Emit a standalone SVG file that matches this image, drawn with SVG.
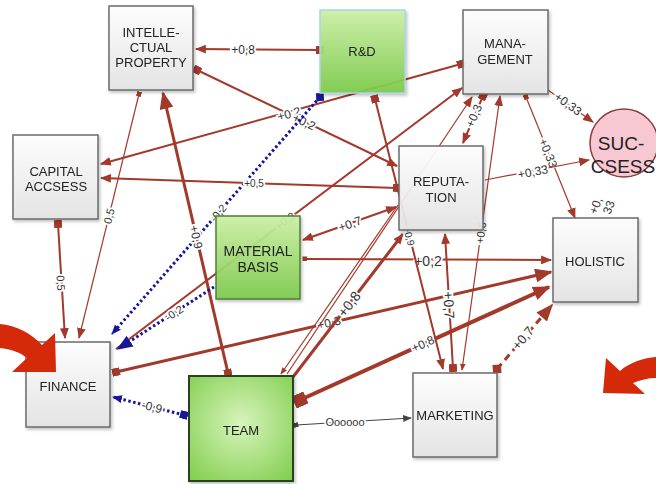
<svg xmlns="http://www.w3.org/2000/svg" width="656" height="484" viewBox="0 0 656 484">
<style>
.c{stroke:#a3392b;fill:none}
.w1{stroke-width:1.2}.w2{stroke-width:2}.w3{stroke-width:3}.w4{stroke-width:4}
.b{stroke:#17179a;stroke-width:3;stroke-dasharray:2.5 2.5;fill:none}
.g{stroke:#444;stroke-width:1.2;fill:none}
.lb{font-family:"Liberation Sans",Arial,sans-serif;font-size:11px;fill:#333;stroke:#fff;stroke-width:3.5;paint-order:stroke;text-anchor:middle;dominant-baseline:central}
.f10{font-size:10px}.f12{font-size:12px}.f13{font-size:13px}.f14{font-size:14px}
.nt{font-family:"Liberation Sans",Arial,sans-serif;font-size:13px;fill:#222;text-anchor:middle}
.nt.f14{font-size:14px}.nt.f19{font-size:19px}
.box{fill:url(#gg);stroke:#6b6b6b;stroke-width:1.5;fill-opacity:0.93}
.grn{fill:url(#gr);stroke:#4f7d3a;stroke-width:1.5;fill-opacity:0.93}
.big{fill:#d42a0a}
</style>
<defs>
<linearGradient id="gg" x1="0" y1="0" x2="0" y2="1"><stop offset="0" stop-color="#ffffff"/><stop offset="1" stop-color="#e4e4e4"/></linearGradient>
<linearGradient id="gr" x1="0" y1="0" x2="0" y2="1"><stop offset="0" stop-color="#cdf0a6"/><stop offset="1" stop-color="#7cca4a"/></linearGradient>
<radialGradient id="gt" cx="0.5" cy="0.45" r="0.7"><stop offset="0" stop-color="#d8f4bc"/><stop offset="1" stop-color="#84cf52"/></radialGradient>
<filter id="sh" x="-10%" y="-10%" width="125%" height="125%"><feDropShadow dx="1.5" dy="2" stdDeviation="1.5" flood-color="#000" flood-opacity="0.25"/></filter>
<marker id="a" viewBox="0 0 10 8" refX="9" refY="4" markerWidth="11" markerHeight="9" markerUnits="userSpaceOnUse" orient="auto-start-reverse"><path d="M0,0L10,4L0,8z" fill="#a3392b"/></marker>
<marker id="aL" viewBox="0 0 10 8" refX="9" refY="4" markerWidth="18" markerHeight="14" markerUnits="userSpaceOnUse" orient="auto-start-reverse"><path d="M0,0L10,4L0,8z" fill="#a3392b"/></marker>
<marker id="aS" viewBox="0 0 10 8" refX="9" refY="4" markerWidth="7" markerHeight="6" markerUnits="userSpaceOnUse" orient="auto-start-reverse"><path d="M0,0L10,4L0,8z" fill="#a3392b"/></marker>
<marker id="s" viewBox="0 0 10 10" refX="5" refY="5" markerWidth="8" markerHeight="8" markerUnits="userSpaceOnUse" orient="auto"><rect width="10" height="10" fill="#a3392b"/></marker>
<marker id="sS" viewBox="0 0 10 10" refX="5" refY="5" markerWidth="5" markerHeight="5" markerUnits="userSpaceOnUse" orient="auto"><rect width="10" height="10" fill="#a3392b"/></marker>
<marker id="sL" viewBox="0 0 10 10" refX="5" refY="5" markerWidth="13" markerHeight="13" markerUnits="userSpaceOnUse" orient="auto"><rect width="10" height="10" fill="#a3392b"/></marker>
<marker id="dL" viewBox="0 0 10 10" refX="5" refY="5" markerWidth="12" markerHeight="12" markerUnits="userSpaceOnUse" orient="auto"><path d="M5,0L10,5L5,10L0,5z" fill="#a3392b"/></marker>
<marker id="aB" viewBox="0 0 10 8" refX="9" refY="4" markerWidth="16" markerHeight="13" markerUnits="userSpaceOnUse" orient="auto-start-reverse"><path d="M0,0L10,4L0,8z" fill="#17179a"/></marker>
<marker id="aBs" viewBox="0 0 10 8" refX="9" refY="4" markerWidth="10" markerHeight="8" markerUnits="userSpaceOnUse" orient="auto-start-reverse"><path d="M0,0L10,4L0,8z" fill="#17179a"/></marker>
<marker id="sB" viewBox="0 0 10 10" refX="5" refY="5" markerWidth="8" markerHeight="8" markerUnits="userSpaceOnUse" orient="auto"><rect width="10" height="10" fill="#17179a"/></marker>
<marker id="dB" viewBox="0 0 10 10" refX="5" refY="5" markerWidth="11" markerHeight="11" markerUnits="userSpaceOnUse" orient="auto"><path d="M5,0L10,5L5,10L0,5z" fill="#17179a"/></marker>
<marker id="aG" viewBox="0 0 10 8" refX="9" refY="4" markerWidth="9" markerHeight="7" markerUnits="userSpaceOnUse" orient="auto-start-reverse"><path d="M0,0L10,4L0,8z" fill="#444"/></marker>
<marker id="sG" viewBox="0 0 10 10" refX="5" refY="5" markerWidth="5" markerHeight="5" markerUnits="userSpaceOnUse" orient="auto"><rect width="10" height="10" fill="#444"/></marker>
</defs>
<rect width="656" height="484" fill="#fff"/>
<g id="connectors">
<line class="c w2" x1="320" y1="50" x2="196" y2="49" marker-start="url(#s)" marker-end="url(#a)"/>
<text class="lb f12" x="243" y="50">+0,8</text>
<line class="c w2" x1="197" y1="70" x2="397" y2="166" marker-start="url(#s)" marker-end="url(#a)"/>
<line class="c w2" x1="461" y1="64" x2="101" y2="164" marker-start="url(#s)" marker-end="url(#a)"/>
<text class="lb f12" x="289" y="114" transform="rotate(-15.5 289 114)">+0,2</text>
<text class="lb f12" x="304" y="122" transform="rotate(25.6 304 122)">+0,2</text>
<line class="b" x1="320" y1="97" x2="112" y2="334" marker-start="url(#dB)" marker-end="url(#aBs)"/>
<text class="lb" x="218" y="213" transform="rotate(-48.7 218 213)">-0,2</text>
<line class="c w1" x1="139" y1="94" x2="79" y2="338" marker-start="url(#sS)" marker-end="url(#a)"/>
<text class="lb" x="109" y="216" transform="rotate(-76 109 216)">0,5</text>
<line class="c w2" x1="58" y1="224" x2="65" y2="338" marker-start="url(#s)" marker-end="url(#a)"/>
<text class="lb" x="61" y="283" transform="rotate(86.5 61 283)">0,5</text>
<line class="c w2" x1="397" y1="188" x2="101" y2="178" marker-start="url(#s)" marker-end="url(#a)"/>
<text class="lb f10" x="254" y="183">+0,5</text>
<line class="c w3" x1="163" y1="93" x2="228" y2="373" marker-start="url(#aL)" marker-end="url(#s)"/>
<text class="lb f12" x="196" y="237" transform="rotate(77 196 237)">+0,9</text>
<line class="c w2" x1="116" y1="349" x2="462" y2="88" marker-end="url(#a)"/>
<text class="lb" x="285" y="221" transform="rotate(-37 285 221)">+0,3</text>
<line class="c w2" x1="303" y1="240" x2="396" y2="207" marker-start="url(#a)" marker-end="url(#a)"/>
<text class="lb f12" x="350" y="224" transform="rotate(-19.5 350 224)">+0,7</text>
<line class="c w2" x1="305" y1="259" x2="551" y2="260" marker-start="url(#sS)" marker-end="url(#a)"/>
<line class="c w3" x1="116" y1="372" x2="551" y2="272" marker-start="url(#s)" marker-end="url(#aL)"/>
<text class="lb f12" x="329" y="323" transform="rotate(-12.9 329 323)">+0,3</text>
<line class="c w4" x1="300" y1="400" x2="549" y2="287" marker-start="url(#sL)" marker-end="url(#aL)"/>
<text class="lb f12" x="423" y="344" transform="rotate(-24.4 423 344)">+0,8</text>
<line class="c w1" x1="281" y1="374" x2="398" y2="205" marker-start="url(#aS)"/>
<line class="c w1" x1="287" y1="374" x2="472" y2="97" marker-end="url(#a)"/>
<line class="c w3" x1="293" y1="377" x2="403" y2="234" marker-end="url(#a)"/>
<text class="lb f14" x="349" y="304" transform="rotate(-52.4 349 304)">+0,8</text>
<text class="lb f14" x="428" y="261">+0,2</text>
<line class="g" x1="296" y1="425" x2="411" y2="418" marker-start="url(#sG)" marker-end="url(#aG)"/>
<text class="lb" x="345" y="422">Oooooo</text>
<line class="b" x1="184" y1="415" x2="113" y2="397" marker-start="url(#sB)" marker-end="url(#aBs)"/>
<text class="lb f12" x="152" y="407" transform="rotate(14 152 407)">-0,9</text>
<line class="b" x1="214" y1="287" x2="118" y2="349" marker-end="url(#aB)"/>
<text class="lb" x="174" y="313" transform="rotate(-33 174 313)">-0,2</text>
<line class="c w2" x1="483" y1="96" x2="463" y2="143" marker-start="url(#s)" marker-end="url(#a)"/>
<text class="lb f12" x="474" y="116" transform="rotate(-67 474 116)">+0,3</text>
<line class="c w1" x1="462" y1="370" x2="500" y2="96" marker-start="url(#aS)" marker-end="url(#a)"/>
<text class="lb" x="481" y="233" transform="rotate(-82 481 233)">+0,6</text>
<line class="c w2" x1="375" y1="99" x2="443" y2="369" marker-start="url(#s)" marker-end="url(#a)"/>
<text class="lb f10" x="409" y="236" transform="rotate(75.9 409 236)">+0,9</text>
<line class="c w2" x1="453" y1="368" x2="445" y2="234" marker-start="url(#s)" marker-end="url(#a)"/>
<text class="lb f14" x="449" y="305" transform="rotate(86.6 449 305)">+0,7</text>
<line class="c w3" x1="497" y1="369" x2="552" y2="305" stroke-dasharray="7 5" marker-start="url(#dL)" marker-end="url(#aL)"/>
<text class="lb f13" x="523" y="338" transform="rotate(-49.3 523 338)">+0,7</text>
<line class="c w1" x1="548" y1="90" x2="593" y2="122" marker-end="url(#a)"/>
<text class="lb f12" x="568" y="104" transform="rotate(35.4 568 104)">+0,33</text>
<line class="c w1" x1="526" y1="97" x2="575" y2="218" marker-start="url(#sS)" marker-end="url(#a)"/>
<text class="lb f12" x="548" y="153" transform="rotate(67.9 548 153)">+0,33</text>
<line class="c w1" x1="485" y1="180" x2="589" y2="160" marker-end="url(#a)"/>
<text class="lb f12" x="533" y="172" transform="rotate(-10.9 533 172)">+0,33</text>
<text class="lb f12" transform="rotate(-70 603 203)"><tspan x="598" y="197">+0,</tspan><tspan x="601" y="210">33</tspan></text>
</g>
<g id="ip" filter="url(#sh)"><rect class="box" x="109" y="6" width="84" height="84"/><text class="nt" x="151" y="37">INTELLE-</text><text class="nt" x="151" y="52">CTUAL</text><text class="nt" x="151" y="67">PROPERTY</text></g>
<g id="rd" filter="url(#sh)"><rect x="320" y="10" width="85" height="83" fill="url(#gr)" fill-opacity="0.93" stroke="#a6d6ea" stroke-width="1.5"/><text class="nt" x="362" y="56">R&amp;D</text></g>
<g id="management" filter="url(#sh)"><rect class="box" x="463" y="10" width="85" height="84"/><text class="nt" x="505" y="48">MANA-</text><text class="nt" x="505" y="64">GEMENT</text></g>
<g id="success"><circle cx="624" cy="143" r="34" fill="#f8c8d2" stroke="#8a3b3b" stroke-width="1.5"/><text class="nt f19" x="621" y="150">SUC-</text><text class="nt f19" x="623" y="173">CSESS</text></g>
<g id="reputation" filter="url(#sh)"><rect class="box" x="399" y="146" width="84" height="84"/><text class="nt" x="441" y="186">REPUTA-</text><text class="nt" x="441" y="202">TION</text></g>
<g id="holistic" filter="url(#sh)"><rect class="box" x="553" y="218" width="85" height="84"/><text class="nt" x="595" y="266">HOLISTIC</text></g>
<g id="capital" filter="url(#sh)"><rect class="box" x="13" y="135" width="85" height="84"/><text class="nt" x="56" y="176">CAPITAL</text><text class="nt" x="56" y="191">ACCSESS</text></g>
<g id="material" filter="url(#sh)"><rect class="grn" x="216" y="216" width="84" height="83"/><text class="nt f14" x="258" y="256">MATERIAL</text><text class="nt f14" x="258" y="272">BASIS</text></g>
<g id="finance" filter="url(#sh)"><rect class="box" x="26" y="342" width="84" height="85"/><text class="nt" x="68" y="391">FINANCE</text></g>
<g id="team" filter="url(#sh)"><rect x="189" y="376" width="104" height="105" fill="url(#gt)" stroke="#2c4222" stroke-width="2"/><text class="nt" x="241" y="435">TEAM</text></g>
<g id="marketing" filter="url(#sh)"><rect class="box" x="413" y="373" width="84" height="84"/><text class="nt" x="455" y="420">MARKETING</text></g>
<path class="big" d="M0,324 C16,325 32,334 42,345 L55,333 L56,372 L12,372 L27,358 C20,352 10,349 0,348 Z"/>
<path class="big" d="M606,358 L620,371 C630,362 644,358 656,357 L656,378 C648,378 640,380 633,383 L645,394 L603,393 Z"/>
</svg>
